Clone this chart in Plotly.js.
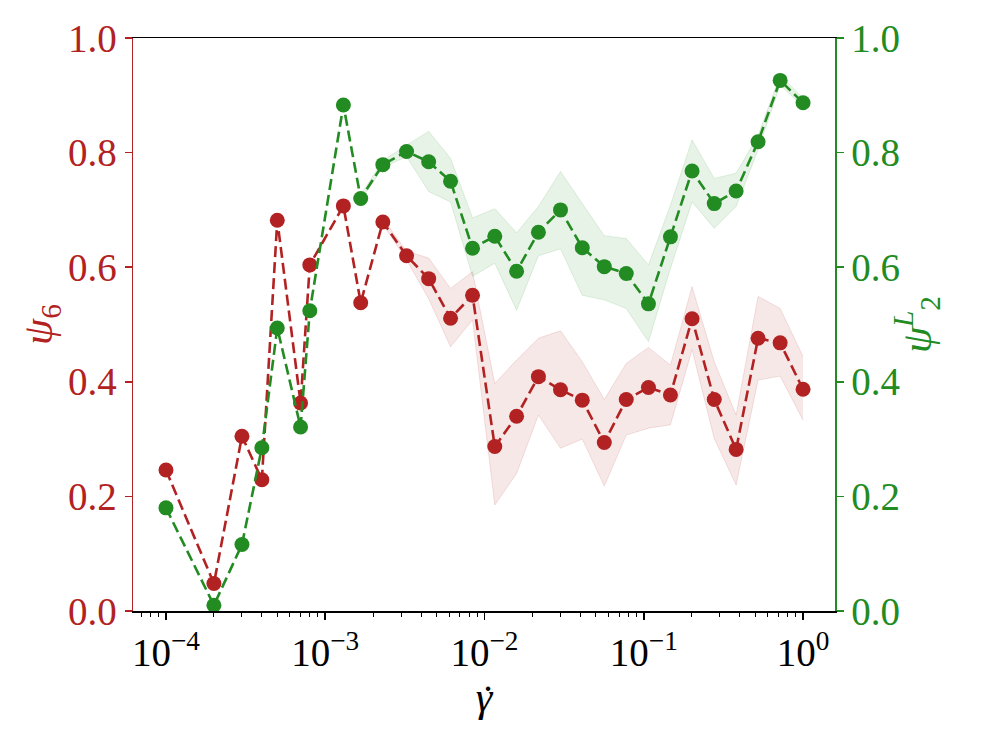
<!DOCTYPE html>
<html>
<head>
<meta charset="utf-8">
<script src="https://cdn.plot.ly/plotly-3.0.1.min.js"></script>
<style>
  body { margin: 0; background: #fff; }
  #chart { width: 996px; height: 747px; }
</style>
</head>
<body>
<div id="chart"></div>
<script>
// shear rates
const gamma_dot = [1e-4, 2e-4, 3e-4, 4e-4, 5e-4, 7e-4, 8e-4, 1.3e-3, 1.67e-3, 2.3e-3,
  3.24e-3, 4.46e-3, 6.12e-3, 8.41e-3, 0.0116, 0.0159, 0.0218, 0.0300, 0.0411, 0.0565,
  0.0776, 0.107, 0.147, 0.201, 0.277, 0.380, 0.522, 0.718, 1.0];

// psi_6 (left axis)
const psi6 = [0.246, 0.048, 0.305, 0.229, 0.682, 0.363, 0.604, 0.707, 0.538, 0.679,
  0.620, 0.580, 0.511, 0.551, 0.287, 0.340, 0.409, 0.386, 0.368, 0.294,
  0.369, 0.390, 0.377, 0.510, 0.369, 0.282, 0.476, 0.468, 0.387];

// psi_2^L (right axis)
const psi2L = [0.180, 0.010, 0.116, 0.285, 0.494, 0.321, 0.524, 0.883, 0.720, 0.779,
  0.802, 0.784, 0.750, 0.633, 0.654, 0.593, 0.661, 0.700, 0.634, 0.601,
  0.589, 0.536, 0.653, 0.768, 0.711, 0.733, 0.819, 0.926, 0.887];

// shaded bands (start index differs per series)
const psi6_band_start = 9;
const psi6_upper = [0.685, 0.628, 0.616, 0.563, 0.592, 0.397, 0.438, 0.476, 0.489, 0.435,
  0.369, 0.432, 0.460, 0.429, 0.566, 0.435, 0.342, 0.549, 0.528, 0.444];
const psi6_lower = [0.675, 0.613, 0.545, 0.461, 0.508, 0.185, 0.240, 0.342, 0.284, 0.300,
  0.218, 0.307, 0.319, 0.325, 0.456, 0.301, 0.220, 0.403, 0.410, 0.333];

const psi2L_band_start = 8;
const psi2L_upper = [0.726, 0.786, 0.813, 0.837, 0.790, 0.686, 0.702, 0.660, 0.706, 0.767,
  0.711, 0.655, 0.650, 0.604, 0.708, 0.822, 0.755, 0.764, 0.830, 0.935, 0.895];
const psi2L_lower = [0.716, 0.774, 0.793, 0.732, 0.714, 0.584, 0.607, 0.525, 0.620, 0.632,
  0.551, 0.543, 0.528, 0.470, 0.598, 0.714, 0.668, 0.706, 0.805, 0.918, 0.880];

// x tick labels
const x_tickvals = [1e-4, 1e-3, 1e-2, 1e-1, 1];
const x_ticktext = ["10<sup>−4</sup>", "10<sup>−3</sup>", "10<sup>−2</sup>", "10<sup>−1</sup>", "10<sup>0</sup>"];

const red = "#b22222";
const green = "#228b22";
const font_family = "Liberation Serif";

const band = (start, upper, lower, color, fill, yaxis) => {
  const x = gamma_dot.slice(start, start + upper.length);
  return [
    { x: x, y: lower, yaxis: yaxis, mode: "lines", type: "scatter",
      line: { color: color, width: 1 }, hoverinfo: "skip", showlegend: false },
    { x: x, y: upper, yaxis: yaxis, mode: "lines", type: "scatter", fill: "tonexty",
      fillcolor: fill, line: { color: color, width: 1 }, hoverinfo: "skip", showlegend: false },
  ];
};

const line = (y, color, yaxis) => ({
  x: gamma_dot, y: y, yaxis: yaxis, mode: "lines+markers", type: "scatter",
  line: { color: color, width: 2.6, dash: "11px,5px" },
  marker: { color: color, size: 15 },
  showlegend: false,
});

const data = [
  ...band(psi6_band_start, psi6_upper, psi6_lower, "rgba(178,34,34,0.13)", "rgba(178,34,34,0.10)", "y"),
  ...band(psi2L_band_start, psi2L_upper, psi2L_lower, "rgba(34,139,34,0.13)", "rgba(34,139,34,0.10)", "y2"),
  line(psi6, red, "y"),
  line(psi2L, green, "y2"),
];

const layout = {
  width: 996, height: 747,
  margin: { l: 133, r: 161, t: 38, b: 136 },
  paper_bgcolor: "#fff", plot_bgcolor: "#fff",
  font: { family: font_family, size: 36, color: "black" },
  xaxis: {
    type: "log", range: [-4.207, 0.2006],
    tickmode: "array", tickvals: x_tickvals, ticktext: x_ticktext,
    showgrid: false, zeroline: false,
    showline: true, linecolor: "black", linewidth: 1.5, mirror: true,
    ticks: "outside", ticklen: 7, tickwidth: 1.5, tickcolor: "black",
    tickfont: { family: font_family, size: 39, color: "black" },
    minor: { ticks: "outside", ticklen: 4, tickwidth: 1, tickcolor: "black", dtick: "D1", showgrid: false },
    title: { text: "<i>γ</i>", font: { family: font_family, size: 42 }, standoff: 0 },
  },
  yaxis: {
    range: [0, 1], dtick: 0.2, tickformat: ".1f",
    showgrid: false, zeroline: false,
    showline: true, linecolor: red, linewidth: 1.5,
    ticks: "outside", ticklen: 7, tickwidth: 1.5, tickcolor: red,
    tickfont: { family: font_family, size: 39, color: red },
    title: { text: "<i>ψ</i><sub>6</sub>", font: { family: font_family, size: 42, color: red }, standoff: 2 },
  },
  yaxis2: {
    overlaying: "y", side: "right",
    range: [0, 1], dtick: 0.2, tickformat: ".1f",
    showgrid: false, zeroline: false,
    showline: true, linecolor: green, linewidth: 1.5,
    ticks: "outside", ticklen: 7, tickwidth: 1.5, tickcolor: green,
    tickfont: { family: font_family, size: 39, color: green },
    title: { text: "<i>ψ</i><sup><i>L</i></sup><sub>2</sub>", font: { family: font_family, size: 42, color: green }, standoff: 2 },
  },
  annotations: [
    // dot over gamma (gamma-dot)
    { text: "˙", xref: "paper", yref: "paper", x: 0.505, y: -0.200,
      showarrow: false, font: { family: font_family, size: 42, color: "black" } },
  ],
};

Plotly.newPlot("chart", data, layout, { displayModeBar: false, staticPlot: true });
</script>
</body>
</html>
